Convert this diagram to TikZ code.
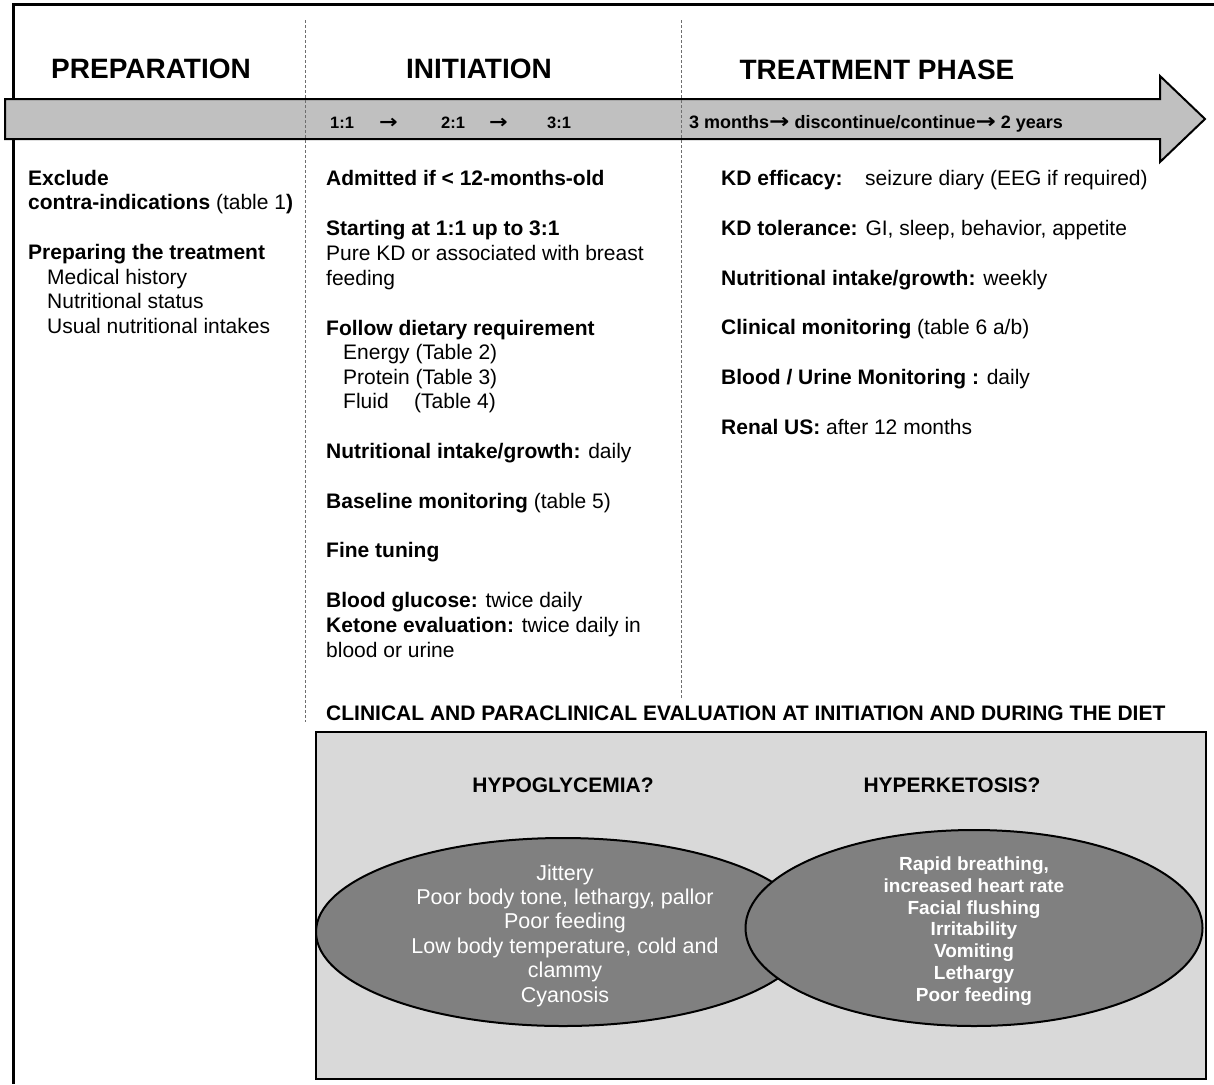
\documentclass[tikz,border=0pt]{standalone}
\usepackage{fontspec}
\usepackage{graphicx}
\setmainfont{Liberation Sans}
\newfontfamily\arrowfont{DejaVu Sans}
\usetikzlibrary{shapes.geometric}
\definecolor{arrowgray}{RGB}{192,192,192}
\definecolor{boxgray}{RGB}{217,217,217}
\definecolor{ellgray}{RGB}{128,128,128}
\definecolor{dashgray}{RGB}{110,110,110}
\newcommand{\rarr}{{\arrowfont\bfseries\scalebox{1.35}[1.15]{→}}}
\begin{document}
\begin{tikzpicture}[x=1pt,y=-1pt,
  txt/.style={anchor=base west,inner sep=0pt,font=\fontsize{21}{25}\selectfont},
  phase/.style={anchor=base,inner sep=0pt,font=\fontsize{28}{32}\selectfont\bfseries},
  bartxt/.style={anchor=base west,inner sep=0pt,font=\fontsize{16.5}{20}\selectfont\bfseries},
  hypo/.style={anchor=base,inner sep=0pt,text=white,font=\fontsize{21.5}{24}\selectfont},
  hyper/.style={anchor=base,inner sep=0pt,text=white,font=\fontsize{19}{22}\selectfont\bfseries},
  sect/.style={anchor=base,inner sep=0pt,font=\fontsize{21}{25}\selectfont\bfseries},
  sepline/.style={draw=dashgray,line width=0.9pt,dash pattern=on 3pt off 2pt},
  oval/.style={ellipse,draw=black,line width=2pt,fill=ellgray,inner sep=0pt},
]
\useasboundingbox (0,0) rectangle (1214,1084);
% frame
\draw[line width=3pt] (12,4) -- (1214,4);
\draw[line width=3pt] (13,4) -- (13,1084);
% phase arrow
\draw[fill=arrowgray,line width=2pt,line join=miter]
  (5,99) -- (1160,99) -- (1160,76) -- (1205,119) -- (1160,162) -- (1160,139) -- (5,139) -- cycle;
% separators
\coordinate (s1a) at (305,20);
\coordinate (s1b) at (305,722);
\coordinate (s2a) at (681,20);
\coordinate (s2b) at (681,698);
\draw[sepline] (s1a) -- (s1b);
\draw[sepline] (s2a) -- (s2b);
% headings
\node[phase] (hprep) at (151,78) {PREPARATION};
\node[phase] (hinit) at (479,78) {INITIATION};
\node[phase] (htreat) at (877,79) {TREATMENT PHASE};
% arrow texts
\node[bartxt] (r1) at (330,128) {1:1};
\node[bartxt] (a1) at (379,128) {\rarr};
\node[bartxt] (r2) at (441,128) {2:1};
\node[bartxt] (a2) at (489,128) {\rarr};
\node[bartxt] (r3) at (547,128) {3:1};
\node[bartxt,font=\fontsize{18}{20}\selectfont\bfseries] (tr) at (689,128) {3 months\rarr\ discontinue/continue\rarr\ 2 years};
% preparation column
\node[txt] (p1) at (28,185) {\bfseries Exclude};
\node[txt] (p2) at (28,209.5) {\textbf{contra-indications} (table 1\textbf{)}};
\node[txt] (p3) at (28,259.5) {\bfseries Preparing the treatment};
\node[txt] (p4) at (47,284) {Medical history};
\node[txt] (p5) at (47,308.5) {Nutritional status};
\node[txt] (p6) at (47,333) {Usual nutritional intakes};
% initiation column
\node[txt] (i1) at (326,185) {\bfseries Admitted if < 12-months-old};
\node[txt] (i2) at (326,235) {\bfseries Starting at 1:1 up to 3:1};
\node[txt] (i3) at (326,260) {Pure KD or associated with breast};
\node[txt] (i4) at (326,285) {feeding};
\node[txt] (i5) at (326,335) {\bfseries Follow dietary requirement};
\node[txt] (i6) at (343,359.5) {Energy (Table 2)};
\node[txt] (i7) at (343,384) {Protein (Table 3)};
\node[txt] (i8) at (343,408.5) {\makebox[71pt][l]{Fluid}(Table 4)};
\node[txt] (i9) at (326,458) {\textbf{Nutritional intake/growth:} daily};
\node[txt] (i10) at (326,508) {\textbf{Baseline monitoring} (table 5)};
\node[txt] (i11) at (326,557.5) {\bfseries Fine tuning};
\node[txt] (i12) at (326,607) {\textbf{Blood glucose:} twice daily};
\node[txt] (i13) at (326,632) {\textbf{Ketone evaluation:} twice daily in};
\node[txt] (i14) at (326,657) {blood or urine};
% treatment column
\node[txt] (t1) at (721,185) {\makebox[144pt][l]{\bfseries KD efficacy:}seizure diary (EEG if required)};
\node[txt] (t2) at (721,235) {\textbf{KD tolerance:} GI, sleep, behavior, appetite};
\node[txt] (t3) at (721,285) {\textbf{Nutritional intake/growth:} weekly};
\node[txt] (t4) at (721,334.5) {\textbf{Clinical monitoring} (table 6 a/b)};
\node[txt] (t5) at (721,384.5) {\textbf{Blood / Urine Monitoring :} daily};
\node[txt] (t6) at (721,434.5) {\textbf{Renal US:} after 12 months};
% evaluation
\node[txt,font=\fontsize{21}{25}\selectfont\bfseries] (etitle) at (326,720) {CLINICAL AND PARACLINICAL EVALUATION AT INITIATION AND DURING THE DIET};
\draw[fill=boxgray,line width=2pt] (316,732) rectangle (1206,1079);
\node[sect] (hg) at (563,792) {HYPOGLYCEMIA?};
\node[sect] (hk) at (952,792) {HYPERKETOSIS?};
\node[oval,minimum width=494pt,minimum height=188pt] (ohypo) at (563,932) {};
\node[oval,minimum width=457pt,minimum height=196pt] (ohyper) at (974,928) {};
% hypoglycemia signs
\node[hypo] (g1) at (565,880) {Jittery};
\node[hypo] (g2) at (565,904.4) {Poor body tone, lethargy, pallor};
\node[hypo] (g3) at (565,928.8) {Poor feeding};
\node[hypo] (g4) at (565,953.2) {Low body temperature, cold and};
\node[hypo] (g5) at (565,977.6) {clammy};
\node[hypo] (g6) at (565,1002) {Cyanosis};
% hyperketosis signs
\node[hyper] (k1) at (974,870.5) {Rapid breathing,};
\node[hyper] (k2) at (974,892.3) {increased heart rate};
\node[hyper] (k3) at (974,914.1) {Facial flushing};
\node[hyper] (k4) at (974,935.9) {Irritability};
\node[hyper] (k5) at (974,957.7) {Vomiting};
\node[hyper] (k6) at (974,979.5) {Lethargy};
\node[hyper] (k7) at (974,1001.3) {Poor feeding};
\end{tikzpicture}
\end{document}
